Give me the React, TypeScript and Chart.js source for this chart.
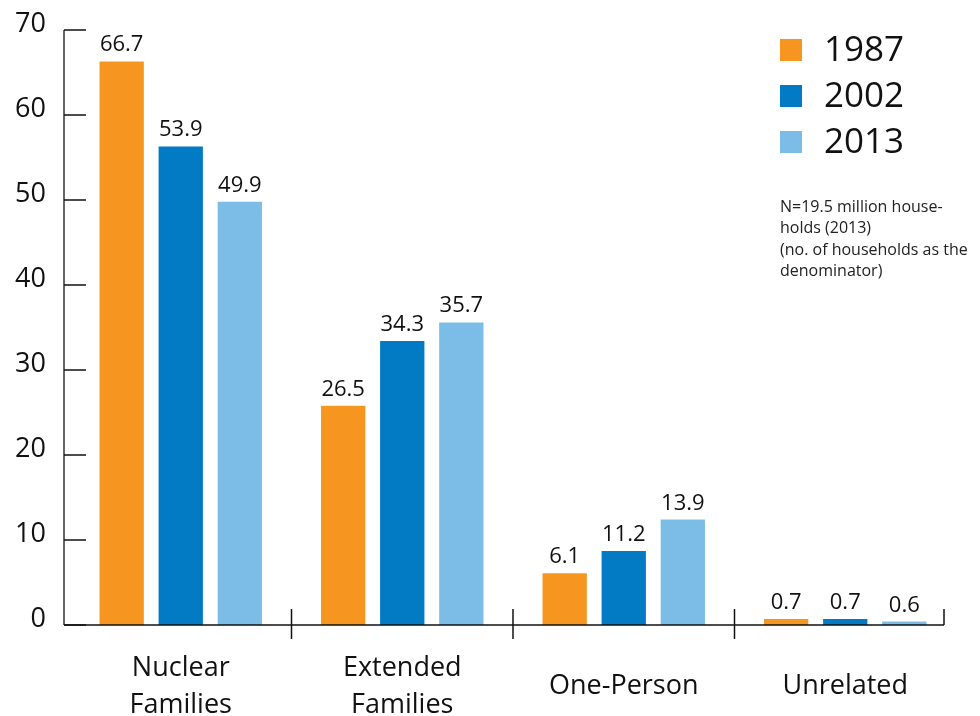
import React, { useEffect, useRef } from "react";
import { Chart, registerables } from "chart.js";

Chart.register(...registerables);

// ---- data ----
const categories: (string | string[])[] = [["Nuclear", "Families"], ["Extended", "Families"], "One-Person", "Unrelated"];
const seriesNames = ["1987", "2002", "2013"];
// bar heights as drawn in the reference
const values1987 = [66.3, 25.8, 6.1, 0.7];
const values2002 = [56.3, 33.4, 8.7, 0.7];
const values2013 = [49.8, 35.6, 12.4, 0.4];
// value labels as printed in the reference
const labels1987 = ["66.7", "26.5", "6.1", "0.7"];
const labels2002 = ["53.9", "34.3", "11.2", "0.7"];
const labels2013 = ["49.9", "35.7", "13.9", "0.6"];
const seriesColors = ["#F6951F", "#027BC4", "#7CBDE7"];
const yMin = 0;
const yMax = 70;
const yStep = 10;
const noteLines = ["N=19.5 million house-", "holds (2013)", "(no. of households as the", "denominator)"];

const FONT = "'Open Sans', 'Noto Sans', sans-serif";
const TEXT = "#111111";

const valueLabels = [labels1987, labels2002, labels2013];

const overlayPlugin = {
  id: "overlay",
  afterDraw(chart: any) {
    const ctx = chart.ctx;
    const area = chart.chartArea;
    const xs = chart.scales.x;
    const ys = chart.scales.y;
    const axisX = area.left - 6;
    const baseY = ys.getPixelForValue(0);
    const topY = ys.getPixelForValue(yMax);
    const half = (xs.getPixelForValue(1) - xs.getPixelForValue(0)) / 2;
    const lastX = xs.getPixelForValue(categories.length - 1) + half - 12;

    ctx.save();
    // y axis line
    ctx.strokeStyle = "#666666";
    ctx.lineWidth = 2;
    ctx.beginPath();
    ctx.moveTo(axisX, topY);
    ctx.lineTo(axisX, baseY);
    ctx.stroke();
    // y tick marks (inward)
    ctx.strokeStyle = "#111111";
    ctx.lineWidth = 1.5;
    ys.ticks.forEach((t: any) => {
      const py = ys.getPixelForValue(t.value);
      ctx.beginPath();
      ctx.moveTo(axisX, py);
      ctx.lineTo(axisX + 22, py);
      ctx.stroke();
    });
    // x axis line
    ctx.beginPath();
    ctx.moveTo(axisX, baseY);
    ctx.lineTo(lastX, baseY);
    ctx.stroke();
    // category separators
    for (let i = 0; i < categories.length; i++) {
      const last = i === categories.length - 1;
      const bx = last ? lastX : xs.getPixelForValue(i) + half;
      ctx.beginPath();
      ctx.moveTo(bx, baseY - 16);
      ctx.lineTo(bx, last ? baseY : baseY + 14);
      ctx.stroke();
    }

    // value labels
    ctx.fillStyle = TEXT;
    ctx.font = `22px ${FONT}`;
    ctx.textAlign = "center";
    ctx.textBaseline = "alphabetic";
    chart.data.datasets.forEach((ds: any, di: number) => {
      const meta = chart.getDatasetMeta(di);
      meta.data.forEach((bar: any, i: number) => {
        ctx.fillText(valueLabels[di][i], bar.x, bar.y - 10);
      });
    });

    // legend
    const lx = 780;
    const ly0 = 50;
    const lstep = 46;
    ctx.font = `35px ${FONT}`;
    ctx.textAlign = "left";
    ctx.textBaseline = "middle";
    chart.data.datasets.forEach((ds: any, di: number) => {
      const cy = ly0 + di * lstep;
      ctx.fillStyle = ds.backgroundColor;
      ctx.fillRect(lx, cy - 11, 22, 22);
      ctx.fillStyle = TEXT;
      ctx.fillText(ds.label, lx + 44, cy + 1);
    });

    // note
    ctx.font = `16px ${FONT}`;
    ctx.fillStyle = "#222222";
    noteLines.forEach((line, i) => {
      ctx.fillText(line, lx, 207 + i * 21.5);
    });
    ctx.restore();
  },
};

export default function App() {
  const canvasRef = useRef<HTMLCanvasElement | null>(null);

  useEffect(() => {
    document.body.style.margin = "0";
    const canvas = canvasRef.current;
    if (!canvas) return;
    const datasetsValues = [values1987, values2002, values2013];
    const chart = new Chart(canvas, {
      type: "bar",
      data: {
        labels: categories,
        datasets: seriesNames.map((name, i) => ({
          label: name,
          data: datasetsValues[i],
          backgroundColor: seriesColors[i],
          borderWidth: 0,
          categoryPercentage: 0.8,
          barPercentage: 0.75,
        })),
      },
      options: {
        animation: false,
        responsive: false,
        maintainAspectRatio: false,
        layout: { padding: { left: 0, right: 24, top: 30, bottom: 0 } },
        plugins: {
          legend: { display: false },
          tooltip: { enabled: false },
        },
        scales: {
          x: {
            grid: { display: false, drawTicks: false },
            border: { display: false },
            ticks: {
              color: TEXT,
              font: { family: FONT, size: 27, lineHeight: 1.38 },
              padding: 43,
              maxRotation: 0,
              autoSkip: false,
              crossAlign: "center",
            },
            afterFit: (scale: any) => {
              scale.height = 91;
            },
          } as any,
          y: {
            min: yMin,
            max: yMax,
            grid: { display: false, drawTicks: false },
            border: { display: false },
            ticks: {
              stepSize: yStep,
              color: TEXT,
              font: { family: FONT, size: 27 },
              padding: 24,
              labelOffset: -6,
            },
            afterFit: (scale: any) => {
              scale.width = 70;
              scale.paddingTop = 10;
              scale.paddingBottom = 10;
            },
          } as any,
        },
      },
      plugins: [overlayPlugin],
    });
    return () => chart.destroy();
  }, []);

  return (
    <div style={{ width: 980, height: 716, background: "#ffffff" }}>
      <canvas ref={canvasRef} width={980} height={716} style={{ display: "block" }} />
    </div>
  );
}
